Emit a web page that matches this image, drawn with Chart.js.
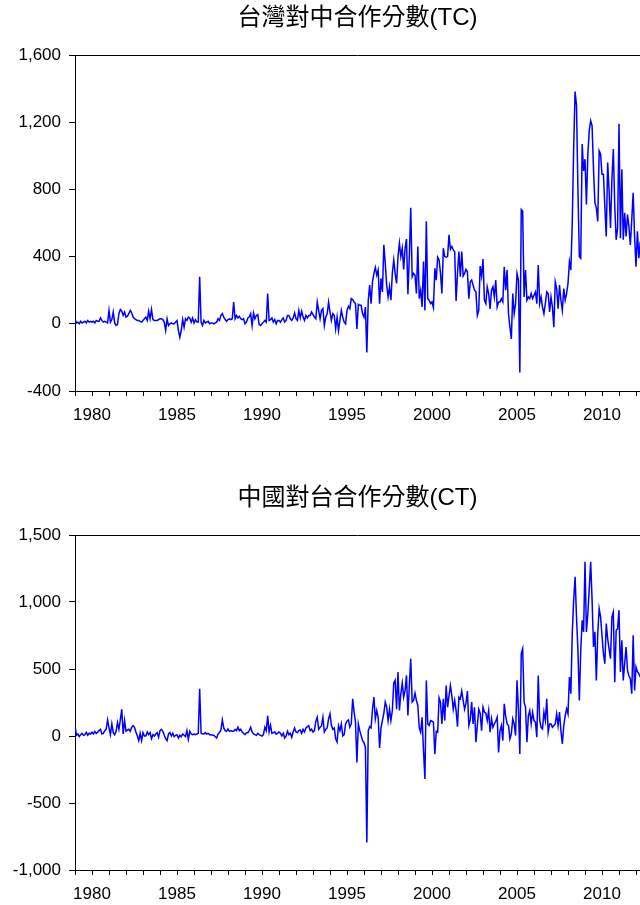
<!DOCTYPE html>
<html>
<head>
<meta charset="utf-8">
<script src="https://cdn.jsdelivr.net/npm/chart.js@4.4.1/dist/chart.umd.min.js"></script>
<style>
    html, body { margin: 0; padding: 0; background: #fff; }
    #wrap { position: relative; width: 640px; height: 905px; }
    canvas { position: absolute; left: 0; }
</style>
</head>
<body>
<div id="wrap">
    <canvas id="tcChart" width="640" height="480" style="top:0"></canvas>
    <canvas id="ctChart" width="640" height="425" style="top:480px"></canvas>
</div>
<script>
// monthly series, first observation 1979M01
const startYear = 1979;

const tcTitle = '台灣對中合作分數(TC)';
const ctTitle = '中國對台合作分數(CT)';

const tcValues = [
    30, 5, 10, 0, 15, 5, 10, 15, 5, 20, 10, 15,            // 1979
    10, 15, 5, 20, 15, 15, 35, 20, 10, 15, 10, 5,           // 1980
    80, 10, 25, 70, 5, -10, -5, 60, 85, 75, 50, 70,         // 1981
    40, 45, 60, 80, 65, 40, 30, 25, 20, 20, 15, 10,         // 1982
    20, 30, 40, 20, 75, 30, 85, 25, 20, 20, 20, 25,         // 1983
    30, 30, 25, 10, -40, 30, -10, 0, 5, 0, 0, 10,           // 1984
    20, -40, -80, -40, 25, -20, 30, 20, 40, 35, 10, 35,     // 1985
    5, 25, 10, 10, 280, 10, -10, 20, 5, 10, 15, 0,          // 1986
    5, 5, 0, 5, 10, 30, 20, 50, 60, 40, 25, 15,             // 1987
    25, 30, 25, 30, 130, 30, 50, 35, 45, 30, 25, 30,        // 1988
    0, 10, 35, 40, 60, -10, 64, 30, 50, 55, -5, -10,        // 1989
    0, 10, 20, 10, 180, 20, 25, 35, 10, 25, 0, 20,          // 1990
    20, 10, 25, 35, 10, 20, 50, 50, 30, 20, 35, 65,         // 1991
    30, 20, 80, 35, 75, 40, 20, 50, 35, 50, 50, 70,         // 1992
    55, 40, 30, 130, 80, 30, 80, 90, -10, 40, 60, 130,      // 1993
    70, 20, 60, 50, -30, 40, -40, 20, 80, 40, 10, 0,        // 1994
    80, 104, 90, 150, 144, 130, 120, -30, 116, 110, 110, 60,        // 1995
    40, 100, -170, 140, 230, 120, 250, 300, 336, 290, 320, 120,     // 1996
    270, 190, 470, 360, 230, 160, 220, 140, 300, 380, 300, 240,     // 1997
    400, 480, 400, 450, 324, 450, 504, 176, 400, 690, 280, 300,     // 1998
    290, 180, 460, 150, 200, 100, 370, 80, 610, 150, 140, 120,      // 1999
    130, 96, 330, 260, 396, 380, 300, 180, 450, 400, 396, 400,      // 2000
    530, 444, 460, 440, 430, 136, 300, 430, 280, 430, 284, 300,     // 2001
    324, 310, 150, 250, 260, 230, 200, 190, 50, 80, 344, 284,       // 2002
    386, 140, 120, 220, 180, 89, 200, 220, 160, 260, 100, 130,      // 2003
    130, 150, 130, 340, 200, 320, 60, -20, -90, 180, 60, 120,       // 2004
    300, 260, -290, 680, 670, 160, 320, 140, 160, 150, 180, 150,    // 2005
    170, 190, 120, 350, 120, 160, 100, 60, 120, 190, 180, 70,       // 2006
    160, 100, -20, 250, 210, 90, 230, 140, 80, 210, 140, 180,       // 2007
    240, 370, 320, 600, 1050, 1383, 1300, 800, 400, 390, 1070, 910, // 2008
    980, 710, 1010, 1150, 1209, 1180, 920, 720, 690, 610, 1030, 1010, // 2009
    890, 890, 700, 520, 960, 790, 570, 860, 1040, 700, 500, 570,    // 2010
    1190, 510, 920, 500, 660, 520, 650, 580, 470, 620, 780, 520,    // 2011
    340, 550, 390, 490                                              // 2012
];

const ctValues = [
    77, 5, 15, -5, 10, 20, 5, 10, 28, 5, 20, 15,            // 1979
    28, 15, 35, 20, 28, 40, 50, 15, 20, 40, 50, 120,        // 1980
    60, 10, 90, 25, 10, 35, 100, 50, 120, 200, 15, 115,     // 1981
    35, 45, 50, 35, 65, 77, 65, 30, 0, -35, 20, -35,        // 1982
    25, 0, 0, 30, 10, 25, -20, 10, 0, 15, 25, -10,          // 1983
    40, 50, 35, 5, -20, -35, 15, 25, 0, 20, -5, 5,          // 1984
    10, -15, 5, -5, 15, 5, -5, 40, -25, 35, 15, 10,         // 1985
    15, 10, 15, 20, 352, 20, 15, 15, 25, 15, 20, 10,        // 1986
    10, 5, 5, -5, -15, 15, 25, 45, 120, 60, 40, 35,         // 1987
    52, 35, 40, 35, 35, 50, 40, 65, 40, 50, 30, 20,         // 1988
    10, 25, 25, 40, 65, 30, 15, 10, 5, 20, 10, 5,           // 1989
    0, 10, 65, 40, 150, 30, 80, 20, 25, 30, 15, 20,         // 1990
    30, 20, 0, 20, -15, 0, 35, 10, 20, -10, 30, 60,         // 1991
    30, 25, 40, 45, 20, 50, 30, 60, 70, 77, 40, 50,         // 1992
    30, 40, 110, 140, 50, 65, 75, 140, 30, 50, 60, 127,     // 1993
    165, 80, 50, 60, -20, -45, 77, 40, 90, 0, 10, 90,       // 1994
    110, 120, 65, 90, 277, 180, 103, -197, 90, 40, 3, -35,  // 1995
    -50, -85, -795, 40, 70, 60, 200, 290, 128, 190, 140, -90,       // 1996
    60, 115, 170, 253, 215, 115, 200, 115, 190, 395, 415, 200,      // 1997
    477, 190, 315, 395, 290, 340, 452, 153, 377, 577, 253, 265,     // 1998
    320, 265, 228, 60, 28, 140, -110, -321, 415, 90, 78, 115,       // 1999
    110, 103, -135, 35, 28, 285, 253, 90, 277, 115, 377, 215,       // 2000
    300, 377, 302, 200, 265, 190, 70, 290, 277, 335, 265, 200,      // 2001
    245, 335, 78, 120, 253, 90, 215, -47, 78, 200, 170, 40,         // 2002
    215, 178, 170, 115, 190, 28, 128, 65, 90, 110, 140, -122,       // 2003
    40, 78, -34, 240, 150, 90, 78, -22, 16, 128, 90, 3,             // 2004
    415, 200, -134, 615, 652, 253, 215, -47, 150, 190, 90, 178,     // 2005
    115, 103, -9, 452, 120, 65, 53, 178, 115, 278, 28, 90,          // 2006
    90, 65, 78, 90, 165, 78, 178, 40, -59, 78, 150, 203,            // 2007
    165, 440, 315, 764, 1014, 1188, 889, 640, 265, 640, 864, 777,   // 2008
    1301, 777, 914, 1100, 1301, 1014, 664, 777, 415, 764, 951, 889, // 2009
    750, 615, 540, 839, 727, 650, 577, 889, 926, 402, 789, 800,     // 2010
    939, 477, 714, 415, 540, 664, 490, 450, 427, 315, 752, 340,     // 2011
    515, 480, 465, 440                                              // 2012
];

const tcTicks = [-400, 0, 400, 800, 1200, 1600];
const ctTicks = [-1000, -500, 0, 500, 1000, 1500];
const yearTicks = [1979, 1980, 1981, 1982, 1983, 1984, 1985, 1986, 1987, 1988, 1989,
    1990, 1991, 1992, 1993, 1994, 1995, 1996, 1997, 1998, 1999, 2000, 2001, 2002,
    2003, 2004, 2005, 2006, 2007, 2008, 2009, 2010, 2011, 2012];
const yearLabels = [1980, 1985, 1990, 1995, 2000, 2005, 2010];

const FONT = '"Liberation Sans", Arial, "Noto Sans CJK TC", sans-serif';

// title over the plot area plus the top frame line
const framePlugin = {
    id: 'frame',
    afterDraw(chart, args, opts) {
        const { ctx, chartArea: a } = chart;
        ctx.save();
        ctx.strokeStyle = '#000';
        ctx.lineWidth = 1;
        ctx.beginPath();
        ctx.moveTo(a.left, a.top + 0.5);
        ctx.lineTo(a.right, a.top + 0.5);
        ctx.stroke();
        ctx.fillStyle = '#000';
        ctx.font = '24px ' + FONT;
        ctx.textAlign = 'center';
        ctx.textBaseline = 'middle';
        ctx.fillText(opts.text, (a.left + a.right) / 2, 18);
        ctx.restore();
    }
};

function makeChart(canvasId, title, values, yTicks, xAxisHeight) {
    const ctx = document.getElementById(canvasId);
    const points = values.map((v, i) => ({ x: startYear + i / 12, y: v }));

    return new Chart(ctx, {
        type: 'line',
        data: {
            datasets: [{
                data: points,
                borderColor: '#0000ff',
                borderWidth: 1.5,
                pointRadius: 0,
                tension: 0,
                fill: false
            }]
        },
        options: {
            responsive: false,
            animation: false,
            devicePixelRatio: 1,
            layout: { padding: { top: 55, left: 0, right: 0, bottom: 0 } },
            plugins: {
                legend: { display: false },
                tooltip: { enabled: false },
                frame: { text: title }
            },
            scales: {
                x: {
                    type: 'linear',
                    min: startYear,
                    max: 2012.235,
                    afterFit: s => {
                        s.height = xAxisHeight;
                        s.paddingLeft = 0;
                        s.paddingRight = 0;
                    },
                    afterBuildTicks: s => { s.ticks = yearTicks.map(v => ({ value: v })); },
                    grid: { drawOnChartArea: false, tickLength: 5, color: '#000' },
                    border: { color: '#000', width: 1 },
                    ticks: {
                        autoSkip: false,
                        maxRotation: 0,
                        color: '#000',
                        padding: 9,
                        font: { family: FONT, size: 17 },
                        callback: v => yearLabels.includes(v) ? String(v) : ''
                    }
                },
                y: {
                    min: yTicks[0],
                    max: yTicks[yTicks.length - 1],
                    afterFit: s => { s.width = 75; },
                    afterBuildTicks: s => { s.ticks = yTicks.map(v => ({ value: v })); },
                    grid: { drawOnChartArea: false, tickLength: 6, color: '#000' },
                    border: { color: '#000', width: 1 },
                    ticks: {
                        color: '#000',
                        padding: 8,
                        font: { family: FONT, size: 17 },
                        callback: v => v.toLocaleString('en-US')
                    }
                }
            }
        },
        plugins: [framePlugin]
    });
}

makeChart('tcChart', tcTitle, tcValues, tcTicks, 89);
makeChart('ctChart', ctTitle, ctValues, ctTicks, 35);
</script>
</body>
</html>
